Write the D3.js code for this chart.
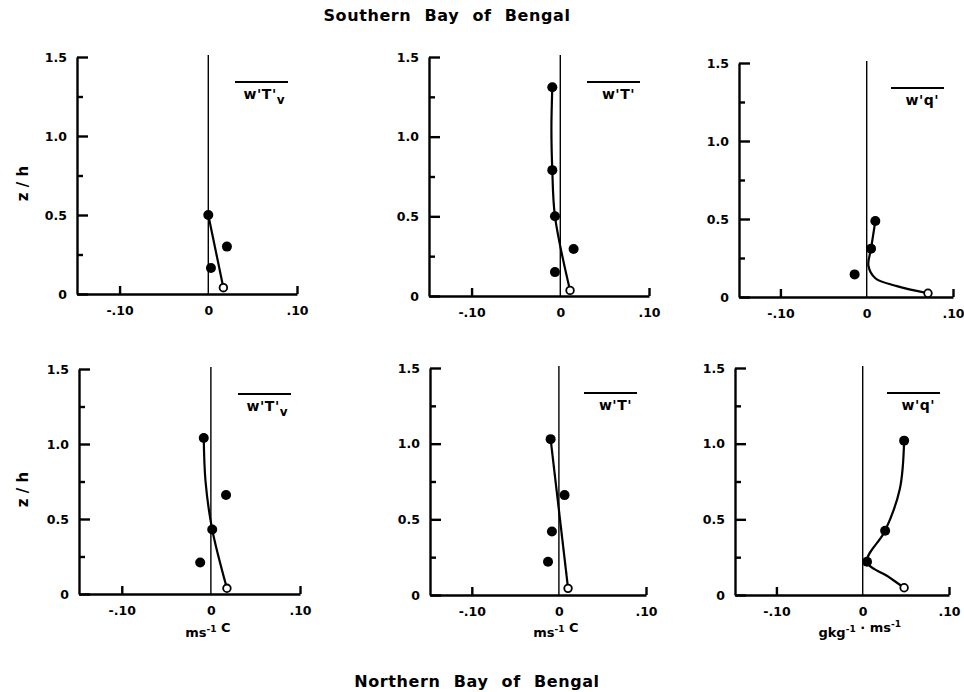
<!DOCTYPE html>
<html lang="en">
<head>
    <meta charset="UTF-8">
    <title>Bay of Bengal flux profiles</title>
    <script src="https://d3js.org/d3.v7.min.js"></script>
    <style>
        body { margin: 0; background: #fff; }
        svg { font-family: "DejaVu Sans", sans-serif; font-weight: bold; }
        .axis path, .axis line { stroke: #000; stroke-width: 2.4; }
        .axis text { font-size: 12.5px; font-weight: bold; fill: #000; font-family: "DejaVu Sans", sans-serif; }
        .zero { stroke: #000; stroke-width: 1.4; }
        .fit { fill: none; stroke: #000; stroke-width: 2.2; }
    </style>
</head>
<body>
    <svg id="chart" width="964" height="692"></svg>

    <script>
        // axis ticks
        const zTicks = [0, 0.5, 1.0, 1.5];
        const zTickLabels = ["0", "0.5", "1.0", "1.5"];
        const zMinorTicks = [0.25, 0.75, 1.25];
        const xTicks = [-0.10, 0, 0.10];
        const xTickLabels = ["-.10", "0", ".10"];

        // Southern Bay of Bengal  [flux, z/h]
        const sTvPoints = [[0.000, 0.50], [0.021, 0.30], [0.003, 0.165]];
        const sTvSurface = [0.017, 0.04];
        const sTvCurve = [[0.000, 0.50], [0.017, 0.04]];

        const sTPoints = [[-0.009, 1.31], [-0.009, 0.79], [-0.006, 0.50], [0.015, 0.295], [-0.006, 0.15]];
        const sTSurface = [0.011, 0.035];
        const sTCurve = [[-0.009, 1.31], [-0.010, 1.05], [-0.009, 0.79], [-0.006, 0.50], [0.011, 0.035]];

        const sQPoints = [[0.010, 0.487], [0.005, 0.31], [-0.014, 0.145]];
        const sQSurface = [0.071, 0.024];
        const sQCurve = [[0.010, 0.487], [0.005, 0.31], [0.002, 0.20], [0.010, 0.12], [0.035, 0.07], [0.071, 0.024]];

        // Northern Bay of Bengal
        const nTvPoints = [[-0.008, 1.04], [0.017, 0.66], [0.0015, 0.43], [-0.012, 0.21]];
        const nTvSurface = [0.018, 0.038];
        const nTvCurve = [[-0.008, 1.04], [-0.006, 0.75], [0.0015, 0.43], [0.018, 0.038]];

        const nTPoints = [[-0.0095, 1.03], [0.0065, 0.66], [-0.008, 0.42], [-0.0125, 0.22]];
        const nTSurface = [0.0105, 0.044];
        const nTCurve = [[-0.0095, 1.03], [0.0105, 0.044]];

        const nQPoints = [[0.048, 1.02], [0.026, 0.425], [0.005, 0.22]];
        const nQSurface = [0.048, 0.048];
        const nQCurve = [[0.048, 1.02], [0.043, 0.70], [0.026, 0.425], [0.005, 0.22], [0.030, 0.12], [0.048, 0.048]];

        const panels = [
            { pts: sTvPoints, surf: sTvSurface, curve: sTvCurve, name: "w'T'", sub: "v", zLabel: true },
            { pts: sTPoints, surf: sTSurface, curve: sTCurve, name: "w'T'", sub: "" },
            { pts: sQPoints, surf: sQSurface, curve: sQCurve, name: "w'q'", sub: "" },
            { pts: nTvPoints, surf: nTvSurface, curve: nTvCurve, name: "w'T'", sub: "v", zLabel: true, unit: [["ms", ""], ["-1", "sup"], [" C", ""]] },
            { pts: nTPoints, surf: nTSurface, curve: nTCurve, name: "w'T'", sub: "", unit: [["ms", ""], ["-1", "sup"], [" C", ""]] },
            { pts: nQPoints, surf: nQSurface, curve: nQCurve, name: "w'q'", sub: "", unit: [["gkg", ""], ["-1", "sup"], [" · ms", ""], ["-1", "sup"]] }
        ];

        // panel frames (pixel layout)
        const frames = [
            { x0: 77, x1: 297, y0: 57, y1: 294 },
            { x0: 429, x1: 649, y0: 57, y1: 296 },
            { x0: 739, x1: 953, y0: 63, y1: 297 },
            { x0: 79, x1: 300, y0: 369, y1: 594 },
            { x0: 430, x1: 646, y0: 368, y1: 595 },
            { x0: 735, x1: 949, y0: 368, y1: 595 }
        ];

        const svg = d3.select("#chart");

        svg.append("text")
            .attr("x", 447).attr("y", 21)
            .attr("text-anchor", "middle")
            .attr("font-size", 16).attr("word-spacing", 7).attr("letter-spacing", 0.6)
            .text("Southern Bay of Bengal");

        svg.append("text")
            .attr("x", 477).attr("y", 687)
            .attr("text-anchor", "middle")
            .attr("font-size", 16).attr("word-spacing", 7).attr("letter-spacing", 0.6)
            .text("Northern Bay of Bengal");

        panels.forEach((p, i) => {
            const f = frames[i];
            const x = d3.scaleLinear().domain([-0.148, 0.10]).range([f.x0, f.x1]);
            const y = d3.scaleLinear().domain([0, 1.5]).range([f.y1, f.y0]);
            const g = svg.append("g");

            // zero line
            g.append("line").attr("class", "zero")
                .attr("x1", x(0)).attr("x2", x(0))
                .attr("y1", y(0)).attr("y2", y(1.5) - 2);

            // z axis
            g.append("g").attr("class", "axis")
                .attr("transform", `translate(${f.x0},0)`)
                .call(d3.axisLeft(y).tickValues(zTicks).tickSize(-11).tickSizeOuter(0)
                    .tickPadding(10).tickFormat((d, k) => zTickLabels[k]));

            g.append("g").attr("class", "axis")
                .attr("transform", `translate(${f.x0},0)`)
                .call(d3.axisLeft(y).tickValues(zMinorTicks).tickSize(-6).tickFormat(""))
                .call(a => a.select(".domain").remove());

            // flux axis
            const xa = g.append("g").attr("class", "axis")
                .attr("transform", `translate(0,${f.y1})`)
                .call(d3.axisBottom(x).tickValues(xTicks).tickSize(-8).tickSizeOuter(0)
                    .tickPadding(12).tickFormat((d, k) => xTickLabels[k]));
            xa.selectAll(".tick").filter(d => d === 0).select("line").remove();

            // fitted profile
            g.append("path").attr("class", "fit")
                .attr("d", d3.line()
                    .x(d => x(d[0])).y(d => y(d[1]))
                    .curve(d3.curveCatmullRom.alpha(0.5))(p.curve));

            g.selectAll(".pt").data(p.pts).enter().append("circle")
                .attr("cx", d => x(d[0])).attr("cy", d => y(d[1]))
                .attr("r", 5).attr("fill", "#000");

            g.append("circle")
                .attr("cx", x(p.surf[0])).attr("cy", y(p.surf[1]))
                .attr("r", 3.8).attr("fill", "#fff")
                .attr("stroke", "#000").attr("stroke-width", 1.8);

            // flux name with overbar
            const lab = g.append("text")
                .attr("x", f.x1 - (p.sub ? 12 : 14)).attr("y", f.y0 + 42)
                .attr("text-anchor", "end").attr("font-size", 14).attr("letter-spacing", 0.5)
                .text(p.name);
            if (p.sub) {
                lab.append("tspan").attr("dy", 5).attr("font-size", 12).text(p.sub);
            }
            g.append("line")
                .attr("x1", f.x1 - 62).attr("x2", f.x1 - 9)
                .attr("y1", f.y0 + 25).attr("y2", f.y0 + 25)
                .attr("stroke", "#000").attr("stroke-width", 2);

            if (p.zLabel) {
                svg.append("text")
                    .attr("transform", `translate(28,${(f.y0 + f.y1) / 2 + 8}) rotate(-90)`)
                    .attr("text-anchor", "middle").attr("font-size", 15)
                    .text("z / h");
            }

            if (p.unit) {
                const u = g.append("text")
                    .attr("x", x(0) - 3).attr("y", 637)
                    .attr("text-anchor", "middle").attr("font-size", 13);
                p.unit.forEach(([t, kind]) => {
                    if (kind === "sup") {
                        u.append("tspan").attr("dy", -5).attr("font-size", 9).text(t);
                        u.append("tspan").attr("dy", 5).text("");
                    } else {
                        u.append("tspan").text(t);
                    }
                });
            }
        });
    </script>
</body>
</html>
